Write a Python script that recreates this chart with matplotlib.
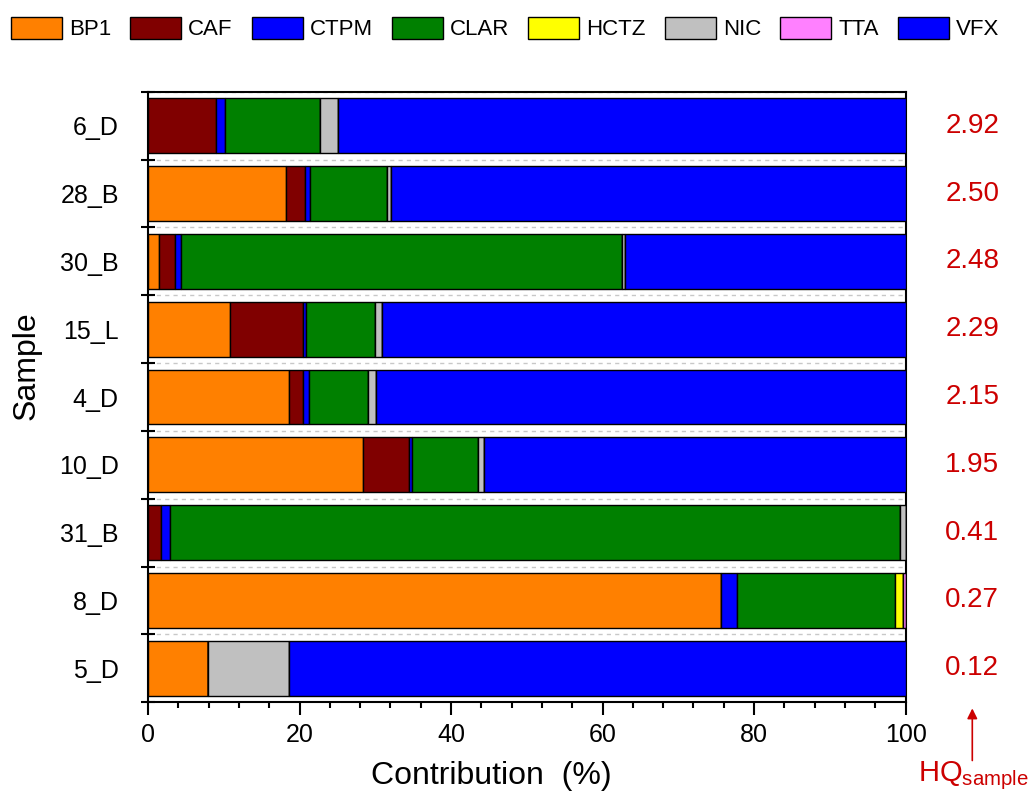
import matplotlib
matplotlib.use("Agg")
import matplotlib.pyplot as plt
import numpy as np
from matplotlib.ticker import MultipleLocator, FixedLocator

plt.rcParams['font.family'] = ['Liberation Sans', 'DejaVu Sans']
plt.rcParams['mathtext.fontset'] = 'custom'
plt.rcParams['mathtext.rm'] = 'Liberation Sans'
plt.rcParams['mathtext.it'] = 'Liberation Sans'

samples = ['6_D', '28_B', '30_B', '15_L', '4_D', '10_D', '31_B', '8_D', '5_D']
hq = ['2.92', '2.50', '2.48', '2.29', '2.15', '1.95', '0.41', '0.27', '0.12']

compounds = ['BP1', 'CAF', 'CTPM', 'CLAR', 'HCTZ', 'NIC', 'TTA', 'VFX']
colors = ['#FF8000', '#800000', '#0000FF', '#008000', '#FFFF00', '#C0C0C0', '#FF80FF', '#0000FF']

# contribution (%) per compound, one value per sample (same order as samples)
bp1  = [0.0, 18.2, 1.5, 10.8, 18.6, 28.4, 0.0, 75.6, 7.9]
caf  = [9.0, 2.5, 2.0, 9.6, 1.8, 6.1, 1.7, 0.0, 0.0]
ctpm = [1.1, 0.7, 0.8, 0.4, 0.8, 0.4, 1.2, 2.1, 0.0]
clar = [12.6, 10.1, 58.2, 9.1, 7.8, 8.7, 96.4, 20.9, 0.0]
hctz = [0.0, 0.0, 0.0, 0.0, 0.0, 0.0, 0.0, 1.0, 0.0]
nic  = [2.4, 0.6, 0.4, 1.0, 1.1, 0.7, 0.7, 0.0, 10.7]
tta  = [0.0, 0.0, 0.0, 0.0, 0.0, 0.0, 0.0, 0.4, 0.0]
vfx  = [74.9, 67.9, 37.1, 69.1, 69.9, 55.7, 0.0, 0.0, 81.4]

series = [bp1, caf, ctpm, clar, hctz, nic, tta, vfx]

fig = plt.figure(figsize=(10.35, 7.98), dpi=100)
ax = fig.add_axes([0.143, 0.120, 0.732, 0.765])

y = np.arange(len(samples))
left = np.zeros(len(samples))
for name, vals, c in zip(compounds, series, colors):
    vals = np.array(vals)
    ax.barh(y, vals, left=left, height=0.81, color=c, edgecolor='black',
            linewidth=1.0, label=name, zorder=3)
    left += vals

ax.set_xlim(0, 100)
ax.set_ylim(len(samples) - 0.5, -0.5)

ax.set_yticks(y)
ax.set_yticklabels(samples, fontsize=18)
ax.tick_params(axis='y', which='major', length=0, pad=21)
ax.yaxis.set_minor_locator(FixedLocator(np.arange(-0.5, len(samples), 1.0)))
ax.tick_params(axis='y', which='minor', direction='inout', length=10, width=1.5)
ax.grid(axis='y', which='minor', color='#c8c8c8', linestyle=(0, (3, 3)), linewidth=1, zorder=0)

ax.xaxis.set_major_locator(MultipleLocator(20))
ax.xaxis.set_minor_locator(MultipleLocator(4))
ax.tick_params(axis='x', which='major', direction='out', length=9, width=1.5, labelsize=18, pad=6)
ax.tick_params(axis='x', which='minor', direction='out', length=4.5, width=1.5)

for s in ax.spines.values():
    s.set_linewidth(1.5)

ax.set_xlabel('Contribution  (%)', fontsize=23)
ax.xaxis.set_label_coords(0.4525, -0.097)
ax.set_ylabel('Sample', fontsize=23)
ax.yaxis.set_label_coords(-0.14, 0.552)

for yi, v in zip(y, hq):
    ax.text(108.8, yi, v, color='#CC0000', fontsize=20, ha='center', va='center', clip_on=False)

# HQ arrow and label
ax.annotate('', xy=(108.8, 8.55), xytext=(108.8, 9.4), xycoords='data',
            arrowprops=dict(arrowstyle='-|>', color='#CC0000', lw=1.2, mutation_scale=15),
            annotation_clip=False)
fig.text(0.94, 0.028, r'HQ$_{\mathrm{sample}}$', color='#CC0000', fontsize=21, ha='center', va='center')

handles, labels = ax.get_legend_handles_labels()
fig.legend(handles, labels, loc='center', bbox_to_anchor=(0.488, 0.964), ncol=8,
           frameon=False, fontsize=16, handlelength=2.3, handleheight=1.13,
           handletextpad=0.32, columnspacing=0.85)

fig.savefig('out.png', dpi=100)
